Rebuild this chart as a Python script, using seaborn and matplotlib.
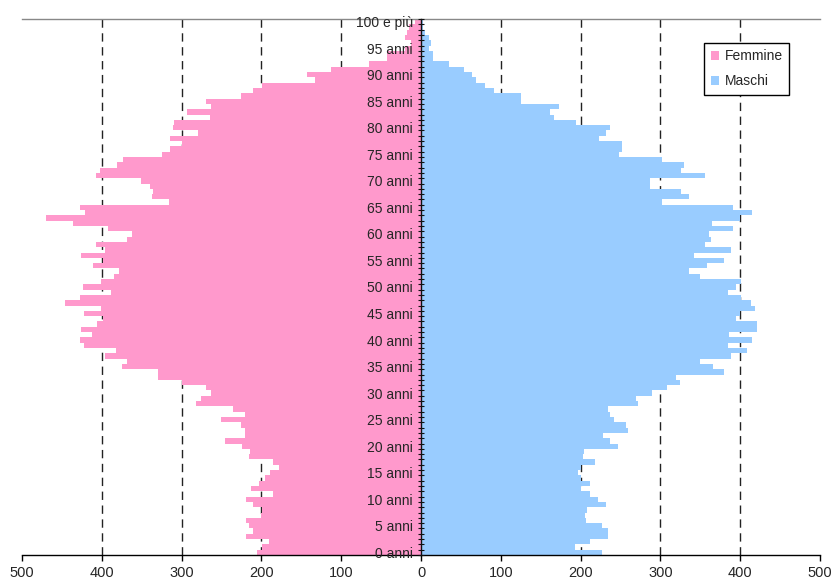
import numpy as np
import pandas as pd
import matplotlib
matplotlib.use("Agg")
import matplotlib.pyplot as plt
import seaborn as sns
from matplotlib.ticker import FixedLocator, FuncFormatter

# Età 0..100 (l'ultima classe è "100 e più")
eta = list(range(101))
etichette_eta = [f"{a} anni" for a in eta]
etichette_eta[100] = "100 e più"

femmine = [205, 199, 191, 219, 210, 216, 219, 200, 199, 210,
           219, 185, 213, 203, 195, 189, 178, 186, 215, 214,
           224, 246, 221, 221, 225, 251, 220, 236, 282, 276,
           263, 270, 299, 330, 330, 375, 369, 396, 382, 422,
           427, 412, 426, 406, 398, 422, 401, 446, 427, 388,
           424, 401, 385, 378, 411, 398, 426, 396, 407, 368,
           362, 392, 436, 470, 421, 427, 316, 337, 336, 339,
           351, 407, 402, 381, 374, 324, 314, 299, 315, 280,
           311, 310, 265, 293, 263, 270, 226, 210, 199, 133,
           143, 113, 65, 43, 43, 20, 13, 20, 18, 15,
           7]

maschi = [227, 193, 212, 234, 234, 227, 207, 205, 208, 232,
          222, 212, 200, 212, 200, 197, 200, 218, 203, 204,
          247, 237, 228, 259, 257, 242, 237, 234, 272, 269,
          290, 308, 325, 320, 380, 366, 350, 389, 409, 385,
          415, 386, 421, 421, 395, 400, 418, 414, 401, 385,
          395, 401, 350, 336, 359, 380, 342, 389, 356, 364,
          361, 391, 365, 400, 415, 391, 302, 336, 326, 287,
          287, 356, 326, 330, 302, 248, 252, 252, 223, 232,
          237, 194, 167, 162, 173, 125, 125, 91, 80, 69,
          64, 54, 35, 15, 15, 10, 13, 10, 5, 3,
          3]

valori_asse = [-500, -400, -300, -200, -100, 0, 100, 200, 300, 400, 500]
colori = {"Femmine": "#FF99CC", "Maschi": "#99CCFF"}

df = pd.DataFrame({
    "eta": etichette_eta * 2,
    "valore": [-v for v in femmine] + maschi,
    "sesso": ["Femmine"] * len(eta) + ["Maschi"] * len(eta),
})

sns.set_theme(style="white")
plt.rcParams["font.family"] = ["Liberation Sans", "DejaVu Sans"]

fig = plt.figure(figsize=(8.33, 5.81), dpi=100)
ax = fig.add_axes([22 / 833, 26 / 581, 798 / 833, 536 / 581])

ordine = etichette_eta[::-1]  # 100 in alto, 0 in basso
sns.barplot(data=df, x="valore", y="eta", hue="sesso", order=ordine,
            hue_order=["Femmine", "Maschi"], palette=colori, dodge=False,
            width=1.0, saturation=1, linewidth=0, edgecolor="none",
            errorbar=None, orient="h", ax=ax)

# griglia verticale tratteggiata dietro le barre
for xv in [-400, -300, -200, -100, 100, 200, 300, 400]:
    ax.axvline(xv, color="#222222", lw=1.0, ls=(0, (6, 4)), zorder=0.5)

ax.set_xlim(-500, 500)
ax.set_ylim(100.5, -0.5)
ax.set_xlabel("")
ax.set_ylabel("")

# asse x con valori assoluti
ax.set_xticks(valori_asse)
ax.xaxis.set_major_formatter(FuncFormatter(lambda v, p: f"{abs(int(v))}"))
ax.tick_params(axis="x", direction="out", length=4, width=1, color="black",
               labelsize=10.5, pad=4, bottom=True)

# asse y centrato sullo zero: etichette ogni 5 anni, tacche a ogni classe
pos_lab = [100 - a for a in eta[::5]]
ax.yaxis.set_major_locator(FixedLocator(pos_lab))
ax.set_yticklabels([etichette_eta[a] for a in eta[::5]])
ax.yaxis.set_minor_locator(FixedLocator(np.arange(-0.5, 101, 1.0)))
ax.tick_params(axis="y", which="major", length=0, labelsize=10, pad=6,
               left=True)
ax.tick_params(axis="y", which="minor", direction="inout", length=5,
               width=0.8, color="#111111", left=True)
ax.spines["left"].set_position(("data", 0))
ax.spines["left"].set_color("#111111")
ax.spines["left"].set_linewidth(1.0)
ax.spines["left"].set_zorder(3)
ax.yaxis.set_zorder(3)

ax.spines["right"].set_visible(False)
ax.spines["top"].set_color("#888888")
ax.spines["top"].set_linewidth(1.0)
ax.spines["bottom"].set_color("black")
ax.spines["bottom"].set_linewidth(1.0)

# legenda
handles, labels = ax.get_legend_handles_labels()
ax.legend(handles, labels, loc="upper right", bbox_to_anchor=(0.961, 0.955),
          borderaxespad=0, frameon=True, fancybox=False, framealpha=1,
          edgecolor="black", fontsize=10, handlelength=0.6, handleheight=0.6,
          handletextpad=0.4, labelspacing=0.8, borderpad=0.45)
ax.get_legend().get_frame().set_linewidth(1.0)

fig.savefig("out.png", dpi=100)
